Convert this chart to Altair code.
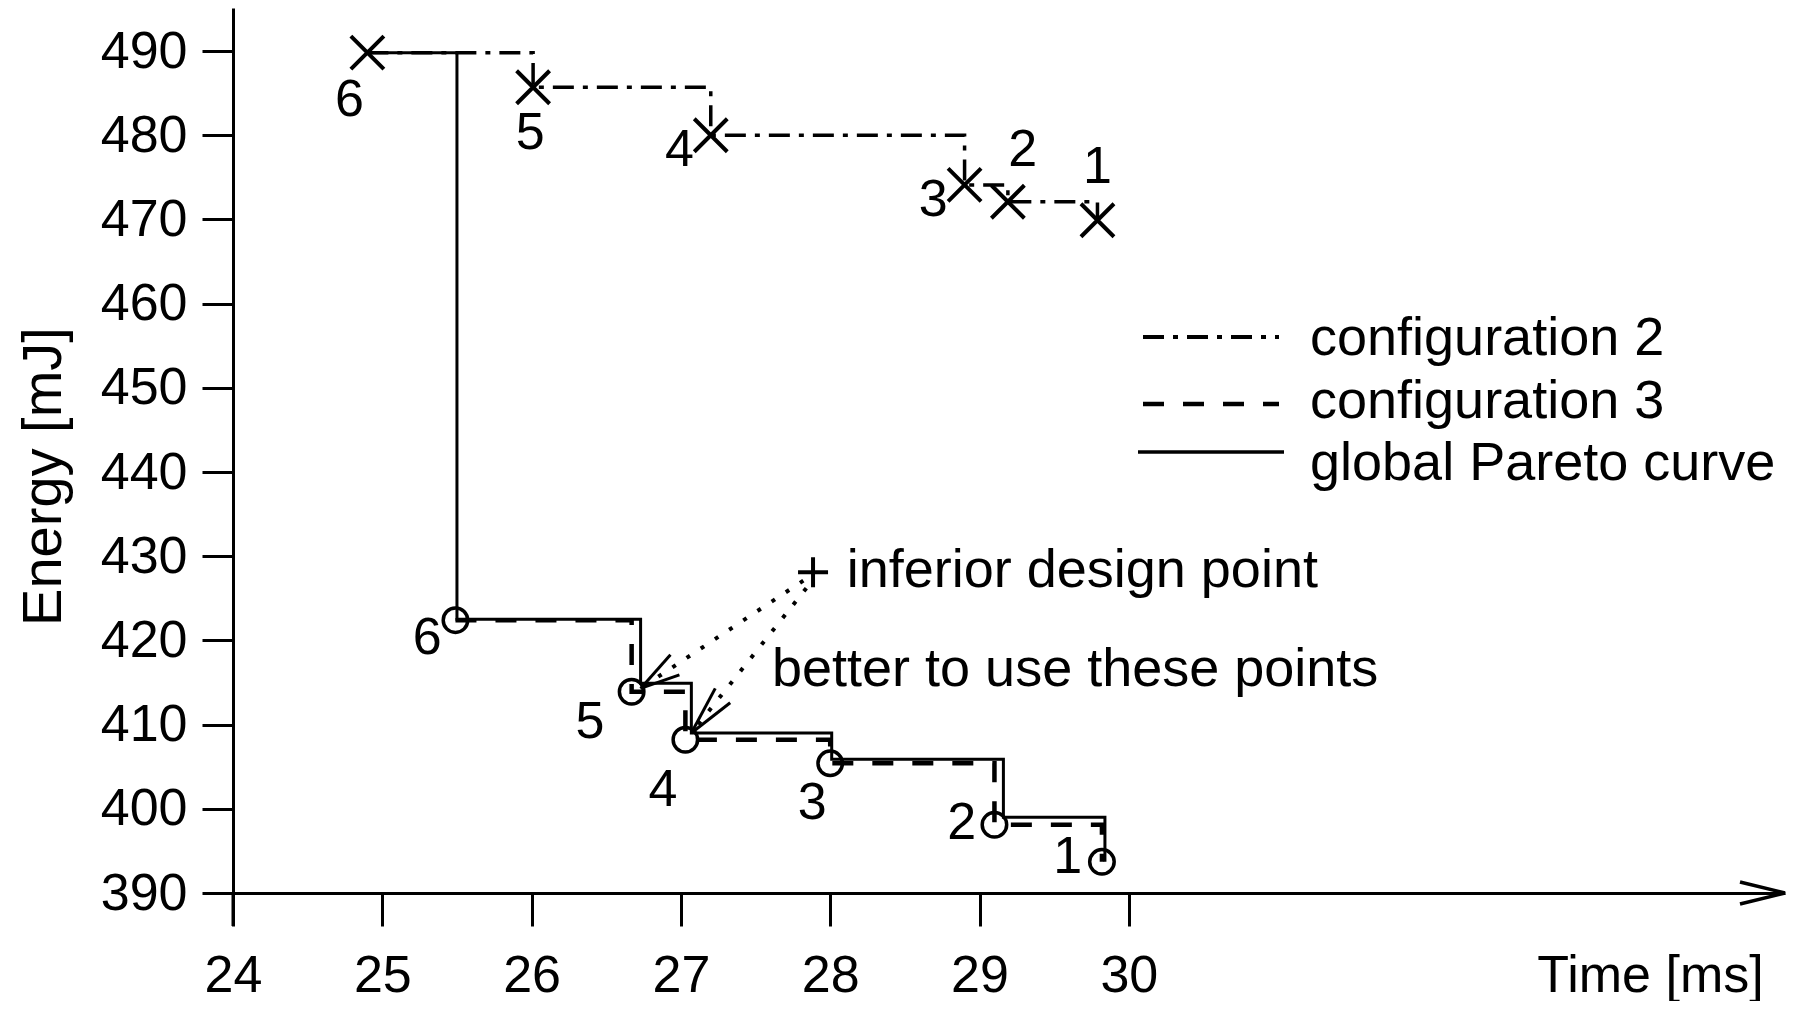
import altair as alt
import pandas as pd

FONT = "Liberation Sans"

# ---- data ----
point_ids = ["6", "5", "4", "3", "2", "1"]
config2_time = [24.90, 26.01, 27.20, 28.90, 29.19, 29.79]
config2_energy = [489.8, 485.7, 480.0, 474.1, 472.1, 469.9]
config3_time = [25.49, 26.67, 27.03, 28.00, 29.10, 29.82]
config3_energy = [422.4, 413.9, 408.2, 405.4, 398.1, 393.7]
pareto_time = [24.90, 25.50, 26.73, 27.07, 28.01, 29.16, 29.84]
pareto_energy = [489.8, 422.5, 414.9, 409.0, 405.9, 399.0, 393.7]

# positions of the point numbers
config2_label_time = [24.78, 25.99, 26.99, 28.69, 29.29, 29.79]
config2_label_energy = [484.2, 480.3, 478.2, 472.3, 478.2, 476.2]
config3_label_time = [25.30, 26.39, 26.88, 27.88, 28.88, 29.59]
config3_label_energy = [420.3, 410.3, 402.2, 400.7, 398.3, 394.3]

inferior_time = [27.885]
inferior_energy = [428.1]

arrow_start_time = [27.82, 27.84]
arrow_start_energy = [427.1, 426.2]
arrow_tip_time = [26.73, 27.07]
arrow_tip_energy = [414.3, 409.0]
arrow_wing1_time = [26.93, 27.23]
arrow_wing1_energy = [418.3, 414.3]
arrow_wing2_time = [26.99, 27.33]
arrow_wing2_energy = [415.9, 412.6]

annotation_texts = ["inferior design point", "better to use these points"]
annotation_time = [28.11, 27.61]
annotation_energy = [428.2, 416.5]

legend_labels = ["configuration 2", "configuration 3", "global Pareto curve"]

x_ticks = [24, 25, 26, 27, 28, 29, 30]
y_ticks = [390, 400, 410, 420, 430, 440, 450, 460, 470, 480, 490]
x_domain = [24, 34.395]
y_domain = [390, 495.11]

# ---- tables ----
c2 = pd.DataFrame({"time": config2_time, "energy": config2_energy})
c3 = pd.DataFrame({"time": config3_time, "energy": config3_energy})
par = pd.DataFrame({"time": pareto_time, "energy": pareto_energy})
c2_lab = pd.DataFrame({"time": config2_label_time, "energy": config2_label_energy, "id": point_ids})
c3_lab = pd.DataFrame({"time": config3_label_time, "energy": config3_label_energy, "id": point_ids})
inf = pd.DataFrame({"time": inferior_time, "energy": inferior_energy})
arrows = pd.DataFrame({
    "time": arrow_start_time, "energy": arrow_start_energy,
    "t1": arrow_tip_time, "e1": arrow_tip_energy,
})
wings = pd.DataFrame({
    "time": arrow_tip_time + arrow_tip_time,
    "energy": arrow_tip_energy + arrow_tip_energy,
    "t1": arrow_wing1_time + arrow_wing2_time,
    "e1": arrow_wing1_energy + arrow_wing2_energy,
})
ann = pd.DataFrame({"time": annotation_time, "energy": annotation_energy, "label": annotation_texts})
one = pd.DataFrame({"k": [0]})

xs = alt.Scale(domain=x_domain, nice=False, zero=False)
ys = alt.Scale(domain=y_domain, nice=False, zero=False)

x_axis = alt.Axis(values=x_ticks, title="Time [ms]", format="d")
y_axis = alt.Axis(values=y_ticks, title="Energy [mJ]", format="d")

X = alt.X("time:Q", scale=xs)
Y = alt.Y("energy:Q", scale=ys)

pareto_line = alt.Chart(par).mark_line(
    interpolate="step-after", color="black", strokeWidth=3
).encode(x=alt.X("time:Q", scale=xs, axis=x_axis), y=alt.Y("energy:Q", scale=ys, axis=y_axis))

c3_line = alt.Chart(c3).mark_line(
    interpolate="step-after", color="black", strokeWidth=4.5, strokeDash=[21, 19]
).encode(x=X, y=Y)

c2_line = alt.Chart(c2).mark_line(
    interpolate="step-after", color="black", strokeWidth=3.5, strokeDash=[21, 9, 5, 9]
).encode(x=X, y=Y)

c2_pts = alt.Chart(c2).mark_point(
    shape="M-1,-1L1,1M-1,1L1,-1", size=1089, filled=False, color="black", strokeWidth=4, opacity=1
).encode(x=X, y=Y)

c3_pts = alt.Chart(c3).mark_point(
    shape="circle", size=600, filled=False, color="black", strokeWidth=3.5, opacity=1
).encode(x=X, y=Y)

inf_pt = alt.Chart(inf).mark_point(
    shape="M-1,0L1,0M0,-1L0,1", size=900, filled=False, color="black", strokeWidth=4, opacity=1
).encode(x=X, y=Y)

arrow_lines = alt.Chart(arrows).mark_rule(
    color="black", strokeWidth=4, strokeDash=[4, 13]
).encode(x=X, y=Y, x2="t1:Q", y2="e1:Q")

arrow_heads = alt.Chart(wings).mark_rule(
    color="black", strokeWidth=3
).encode(x=X, y=Y, x2="t1:Q", y2="e1:Q")

c2_text = alt.Chart(c2_lab).mark_text(
    font=FONT, fontSize=52, color="black", align="center", baseline="middle"
).encode(x=X, y=Y, text="id:N")

c3_text = alt.Chart(c3_lab).mark_text(
    font=FONT, fontSize=52, color="black", align="center", baseline="middle"
).encode(x=X, y=Y, text="id:N")

ann_text = alt.Chart(ann).mark_text(
    font=FONT, fontSize=54, color="black", align="left", baseline="middle"
).encode(x=X, y=Y, text="label:N")

# axis decorations: y axis extension below the x axis, arrow head at end of x axis
yext = alt.Chart(one).mark_rule(color="black", strokeWidth=3).encode(
    x=alt.value(0), y=alt.value(885), y2=alt.value(918))
arr1 = alt.Chart(one).mark_rule(color="black", strokeWidth=3.5).encode(
    x=alt.value(1507), y=alt.value(874), x2=alt.value(1552), y2=alt.value(885))
arr2 = alt.Chart(one).mark_rule(color="black", strokeWidth=3.5).encode(
    x=alt.value(1507), y=alt.value(896), x2=alt.value(1552), y2=alt.value(885))

# legend
leg_styles = [
    dict(strokeDash=[21, 9, 5, 9], strokeWidth=4),
    dict(strokeDash=[21, 19], strokeWidth=4.5),
    dict(strokeWidth=3.5),
]
leg_line_y = [329, 396, 444]
leg_line_x = [(910, 1046), (910, 1046), (905, 1051)]
leg_text_y = [331, 394, 456]
legend_layers = []
for i, lab in enumerate(legend_labels):
    legend_layers.append(
        alt.Chart(one).mark_rule(color="black", **leg_styles[i]).encode(
            x=alt.value(leg_line_x[i][0]), x2=alt.value(leg_line_x[i][1]),
            y=alt.value(leg_line_y[i]))
    )
    legend_layers.append(
        alt.Chart(pd.DataFrame({"label": [lab]})).mark_text(
            font=FONT, fontSize=54, color="black", align="left", baseline="middle"
        ).encode(x=alt.value(1077), y=alt.value(leg_text_y[i]), text="label:N")
    )

chart = alt.layer(
    pareto_line, c3_line, c2_line, arrow_lines, arrow_heads,
    c2_pts, c3_pts, inf_pt, c2_text, c3_text, ann_text,
    yext, arr1, arr2, *legend_layers
).properties(
    width=1552, height=885,
    autosize=alt.AutoSizeParams(type="none"),
    padding={"left": 225, "top": 0, "right": 13, "bottom": 108},
    background="white",
).configure_view(
    strokeWidth=0
).configure_axis(
    grid=False, domainColor="black", domainWidth=3, tickColor="black", tickWidth=3,
    labelFont=FONT, labelFontSize=52, labelColor="black",
    labelFlush=False, labelOverlap=False,
    titleFont=FONT, titleFontWeight="normal", titleColor="black",
).configure_axisX(
    tickSize=33, labelPadding=49, labelBaseline="middle",
    titleFontSize=52, titleX=1417, titleY=82, titleAlign="center", titleBaseline="middle",
).configure_axisY(
    tickSize=31, labelPadding=15,
    titleFontSize=56, titleAngle=270, titleX=-190, titleY=468,
    titleAlign="center", titleBaseline="middle",
)

chart.save("out.html", embed_options={"renderer": "svg", "actions": False})
